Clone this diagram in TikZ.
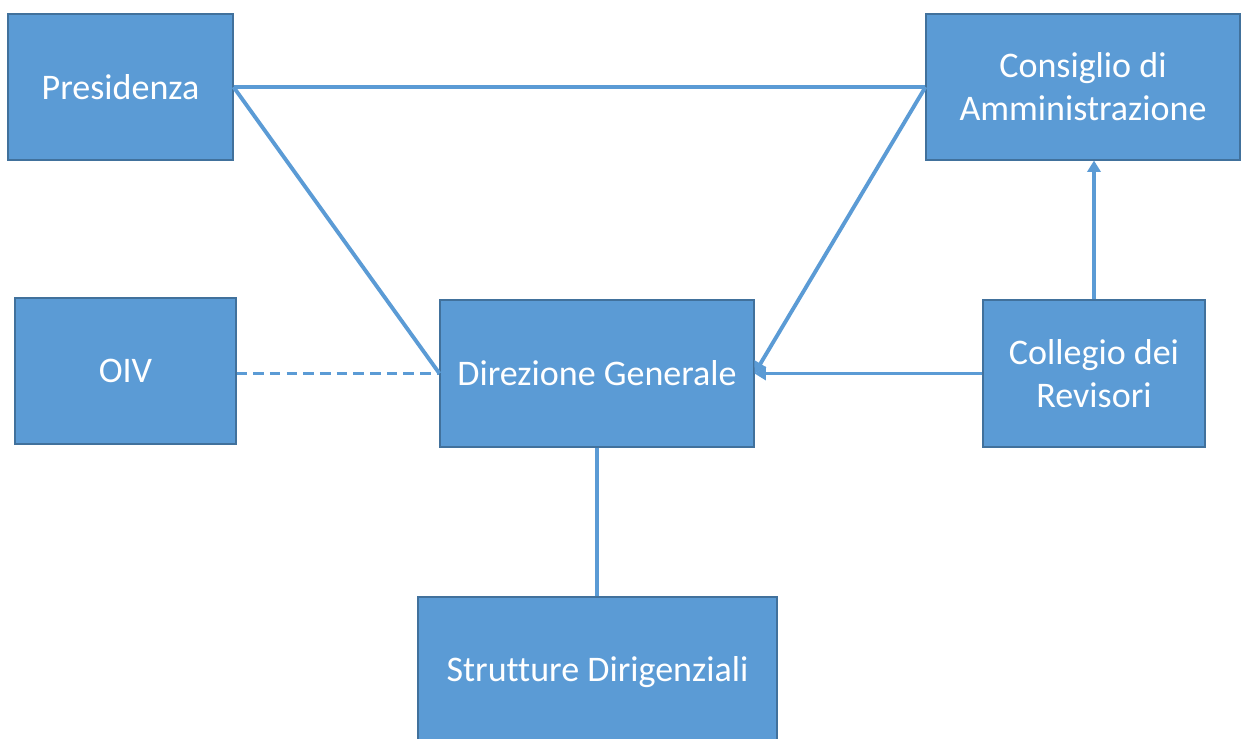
\documentclass[tikz,border=0pt]{standalone}
\usepackage{fontspec}
\setmainfont{Carlito}[Ligatures=NoCommon]
\usetikzlibrary{arrows.meta}
\definecolor{boxfill}{HTML}{5B9BD5}
\definecolor{boxedge}{HTML}{41719C}
\begin{document}
\begin{tikzpicture}[x=0.02cm,y=-0.02cm,
  orgbox/.style={fill=boxfill,draw=boxedge,line width=0.6pt,text=white,
    font=\fontsize{20.5}{24.4}\selectfont,align=center,inner sep=0pt},
  link/.style={draw=boxfill,line width=2.2pt},
  arr/.style={link,-{Triangle[length=6.5pt,width=7.5pt]}}]
\useasboundingbox (0,0) rectangle (1258,738);
\clip (0,0) rectangle (1258,738);
% boxes
\node[orgbox,minimum width=225*0.02cm,minimum height=146*0.02cm] (pres) at (120.5,87) {Presidenza};
\node[orgbox,minimum width=314*0.02cm,minimum height=146*0.02cm] (cda) at (1083,87) {Consiglio di\\Amministrazione};
\node[orgbox,minimum width=221*0.02cm,minimum height=146*0.02cm] (oiv) at (125.5,371) {OIV};
\node[orgbox,minimum width=314*0.02cm,minimum height=147*0.02cm] (dg) at (597,373.5) {Direzione Generale};
\node[orgbox,minimum width=222*0.02cm,minimum height=147*0.02cm] (cdr) at (1094,373.5) {Collegio dei\\Revisori};
\node[orgbox,minimum width=359*0.02cm,minimum height=150*0.02cm] (sd) at (597.5,672) {Strutture Dirigenziali};
% connectors
\draw[link] (pres.east) -- (cda.west);
\draw[link] (pres.east) -- (dg.west);
\draw[arr] (cda.west) -- (dg.east);
\draw[arr] (cdr.west) -- (dg.east);
\draw[arr] (cdr.north) -- (cdr.north |- cda.south);
\draw[link,dashed,dash pattern=on 6pt off 3.5pt] (oiv.east |- dg.west) -- (dg.west);
\draw[link] (dg.south) -- (dg.south |- sd.north);
\end{tikzpicture}
\end{document}
